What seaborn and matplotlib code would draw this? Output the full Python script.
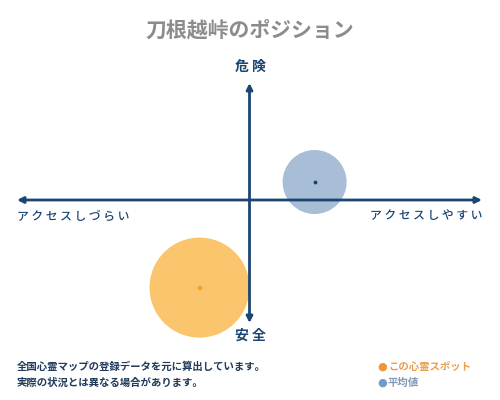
import matplotlib
matplotlib.use("Agg")
import matplotlib.pyplot as plt
import seaborn as sns
import pandas as pd

# データ
labels = ["この心霊スポット", "平均値"]
access = [-0.215, 0.28]     # 横軸: アクセスしづらい(-) ～ しやすい(+)
danger = [-0.73, 0.15]      # 縦軸: 安全(-) ～ 危険(+)
bubble = [50, 32]           # 円の大きさ
colors = ["#FBC56E", "#A8BDD6"]
dot_colors = ["#F0A030", "#1F3F66"]

title = "刀根越峠のポジション"
notes = ["全国心霊マップの登録データを元に算出しています。",
         "実際の状況とは異なる場合があります。"]

sns.set_theme(style="white")
plt.rcParams['font.family'] = ['Noto Sans CJK JP', 'DejaVu Sans']

navy = "#1B4572"

df = pd.DataFrame({"label": labels, "x": access, "y": danger, "r": bubble})

fig = plt.figure(figsize=(5, 4), dpi=100)
ax = fig.add_axes([17 / 500, 1 - 320 / 400, 465 / 500, 240 / 400])
ax.set_xlim(-1, 1)
ax.set_ylim(-1, 1)
ax.axis("off")

# 円 (半径 px → 面積 pt^2)
sizes = {lab: (2 * r * 0.72) ** 2 for lab, r in zip(labels, bubble)}
sns.scatterplot(data=df, x="x", y="y", hue="label", size="label",
                sizes=sizes, palette=dict(zip(labels, colors)),
                alpha=1, linewidth=0, legend=False, ax=ax, zorder=1, clip_on=False)
# 中心点
ax.scatter(access[0], danger[0], s=14, marker="+", color=dot_colors[0], linewidths=1.2,
           zorder=4, clip_on=False)
ax.scatter(access[1], danger[1], s=3, color=dot_colors[1], zorder=4)

# 軸 (矢印)
arrow = dict(arrowstyle="<|-|>", color=navy, lw=2, mutation_scale=9, shrinkA=0, shrinkB=0)
ax.annotate("", xy=(1, 0), xytext=(-1, 0), arrowprops=arrow, zorder=2,
            annotation_clip=False)
ax.annotate("", xy=(0, 0.975), xytext=(0, -1.025), arrowprops=arrow, zorder=3,
            annotation_clip=False)

# 軸ラベル
fig.text(0.5, 1 - 67 / 400, "危 険", ha="center", va="center", fontsize=10,
         fontweight="bold", color=navy)
fig.text(0.5, 1 - 336 / 400, "安 全", ha="center", va="center", fontsize=10,
         fontweight="bold", color=navy)
fig.text(17 / 500, 1 - 216 / 400, "ア ク セ ス し づ ら い", ha="left", va="center",
         fontsize=8.5, fontweight="medium", color=navy)
fig.text(482 / 500, 1 - 216 / 400, "ア ク セ ス し や す い", ha="right", va="center",
         fontsize=8.5, fontweight="medium", color=navy)

# タイトル
fig.text(0.5, 1 - 30 / 400, title, ha="center", va="center", fontsize=15,
         fontweight="bold", color="#8C8C8C")

# 注記
fig.text(17 / 500, 1 - 367 / 400, notes[0], ha="left", va="center", fontsize=7.5,
         fontweight="bold", color="#1F3A5A")
fig.text(17 / 500, 1 - 383 / 400, notes[1], ha="left", va="center", fontsize=7.5,
         fontweight="bold", color="#1F3A5A")

# 凡例
legend_dot = ["#F0963A", "#6F9CC6"]
legend_txt = ["#E8A050", "#7E9AB8"]
for i, lab in enumerate(labels):
    yy = 1 - (367 + 16 * i) / 400
    fig.text(377 / 500, yy, "●", ha="left", va="center", fontsize=8, color=legend_dot[i],
             family=['DejaVu Sans'])
    fig.text(388 / 500, yy, lab, ha="left", va="center", fontsize=7.5,
             fontweight="bold", color=legend_txt[i])

fig.savefig("out.png", dpi=100, facecolor="white")
